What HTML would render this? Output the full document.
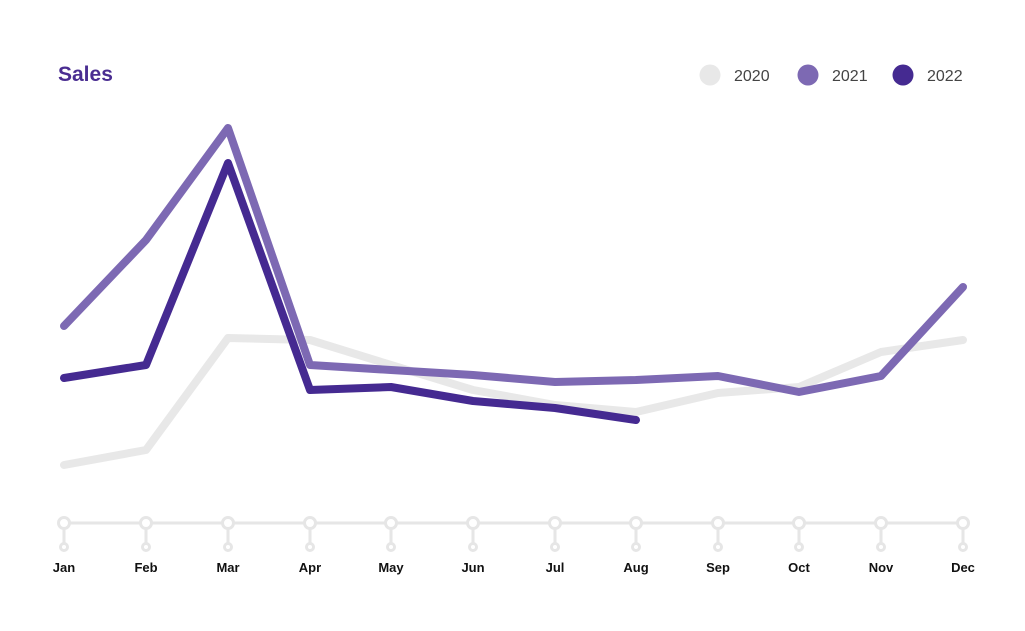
<!DOCTYPE html>
<html><head><style>body{margin:0;background:#fff}svg{display:block}</style></head><body>
<svg width="1025" height="631" xmlns="http://www.w3.org/2000/svg" font-family="Liberation Sans, sans-serif">
<rect width="1025" height="631" fill="#fff"/>
<text x="58" y="81" font-size="21" font-weight="bold" fill="#4a2d91">Sales</text>
<circle cx="710" cy="75" r="10.5" fill="#e8e8e8"/><text x="734" y="81" font-size="16" fill="#444">2020</text>
<circle cx="808" cy="75" r="10.5" fill="#7d69b3"/><text x="832" y="81" font-size="16" fill="#444">2021</text>
<circle cx="903" cy="75" r="10.5" fill="#452a91"/><text x="927" y="81" font-size="16" fill="#444">2022</text>
<g fill="none" stroke-width="8" stroke-linejoin="round" stroke-linecap="round">
<polyline stroke="#e8e8e8" points="64,465 146,450 228,338 310,340 391,365 473,390 555,405 636,412 718,393 799,387 881,352 963,340"/>
<polyline stroke="#7d69b3" points="64,326 146,240 228,128 310,365 391,370 473,375 555,382 636,380 718,376 799,392 881,376 963,287"/>
<polyline stroke="#452a91" points="64,378 146,365 228,163 310,390 391,387 473,401 555,408 636,420"/>
</g>
<g stroke="#e6e6e6" stroke-width="3" fill="#fff">
<line x1="64" y1="523" x2="963" y2="523"/>
<g id="t"><line x1="64" y1="523" x2="64" y2="547"/><circle cx="64" cy="523" r="5.5"/><circle cx="64" cy="547" r="3.5"/></g>
<use href="#t" x="82"/><use href="#t" x="164"/><use href="#t" x="246"/><use href="#t" x="327"/><use href="#t" x="409"/><use href="#t" x="491"/><use href="#t" x="572"/><use href="#t" x="654"/><use href="#t" x="735"/><use href="#t" x="817"/><use href="#t" x="899"/>
</g>
<g font-size="13" font-weight="bold" fill="#111" text-anchor="middle">
<text x="64" y="572">Jan</text><text x="146" y="572">Feb</text><text x="228" y="572">Mar</text><text x="310" y="572">Apr</text><text x="391" y="572">May</text><text x="473" y="572">Jun</text><text x="555" y="572">Jul</text><text x="636" y="572">Aug</text><text x="718" y="572">Sep</text><text x="799" y="572">Oct</text><text x="881" y="572">Nov</text><text x="963" y="572">Dec</text>
</g>
</svg>
</body></html>
